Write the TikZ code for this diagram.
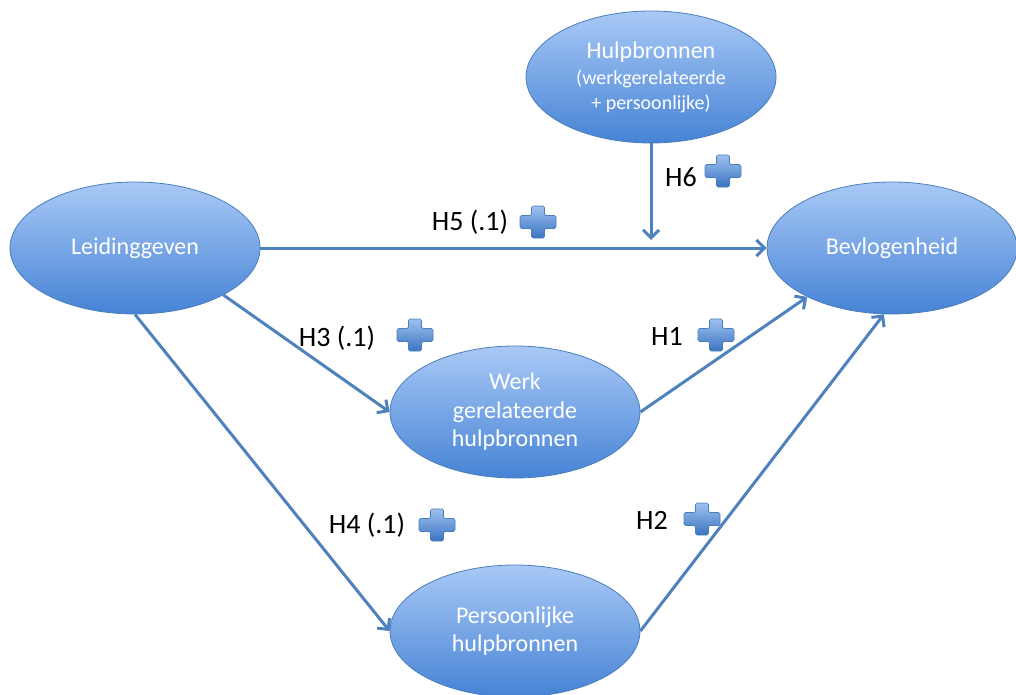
\documentclass[tikz,border=0pt]{standalone}
\usepackage{fontspec}
\setmainfont{Carlito}
\usetikzlibrary{arrows.meta,shapes.geometric}

\definecolor{ellTop}{HTML}{A9C9F6}
\definecolor{ellBot}{HTML}{4683D5}
\definecolor{ellLine}{HTML}{4A7EBB}
\definecolor{linkBlue}{HTML}{4F81BD}
\definecolor{plusTop}{HTML}{9DC1EF}
\definecolor{plusBot}{HTML}{3C74C2}
\definecolor{plusLine}{HTML}{4A7EBB}

\begin{document}
\begin{tikzpicture}[x=1pt,y=1pt,
  concept/.style={ellipse, draw=ellLine, line width=0.8pt,
    top color=ellTop, bottom color=ellBot,
    minimum width=250pt, minimum height=132pt, inner sep=0pt,
    text=white, align=center,
    font=\fontsize{24}{28.5}\selectfont},
  link/.style={draw=linkBlue, line width=3pt,
    -{Straight Barb[length=8pt,width=16pt,line width=3pt]}},
  hyp/.style={text=black, inner sep=0pt, font=\fontsize{28}{32}\selectfont},
  plussign/.pic={
    \shade[top color=plusTop, bottom color=plusBot, draw=plusLine,
      line width=0.6pt, rounded corners=1.5pt]
      (-6.5,16) -- (6.5,16) -- (6.5,6.5) -- (18,6.5) -- (18,-6.5)
      -- (6.5,-6.5) -- (6.5,-16) -- (-6.5,-16) -- (-6.5,-6.5)
      -- (-18,-6.5) -- (-18,6.5) -- (-6.5,6.5) -- cycle;
  }]

\useasboundingbox (0,0) rectangle (1016,-695);

% concepts
\node[concept] (hulp) at (651,-77)
  {Hulpbronnen\\[-2pt]{\fontsize{20}{24}\selectfont (werkgerelateerde}\\[-4pt]{\fontsize{20}{24}\selectfont + persoonlijke)}};
\node[concept] (leid) at (135,-248) {Leidinggeven};
\node[concept] (bevl) at (892,-248) {Bevlogenheid};
\node[concept] (werk) at (515,-412) {Werk\\gerelateerde\\hulpbronnen};
\node[concept] (pers) at (515,-631) {Persoonlijke\\hulpbronnen};

% moderation point on the direct path
\coordinate (mod) at (651,-240);

% paths
\draw[link] (leid.east) -- (bevl.west);
\draw[link] (hulp.south) -- (mod);
\draw[link] (leid.-28) -- (werk.west);
\draw[link] (leid.south) -- (pers.west);
\draw[link] (werk.east) -- (bevl.210);
\draw[link] (pers.east) -- (bevl.263);

% hypothesis labels
\node[hyp] (h5) at (470,-222) {H5 (.1)};
\pic at (538,-222) {plussign};
\node[hyp] (h6) at (681,-177) {H6};
\pic at (723,-171) {plussign};
\node[hyp] (h3) at (337,-338) {H3 (.1)};
\pic at (415,-335) {plussign};
\node[hyp] (h1) at (667,-336) {H1};
\pic at (716,-335) {plussign};
\node[hyp] (h4) at (367,-525) {H4 (.1)};
\pic at (437,-525) {plussign};
\node[hyp] (h2) at (652,-520) {H2};
\pic at (702,-519) {plussign};

\end{tikzpicture}
\end{document}
